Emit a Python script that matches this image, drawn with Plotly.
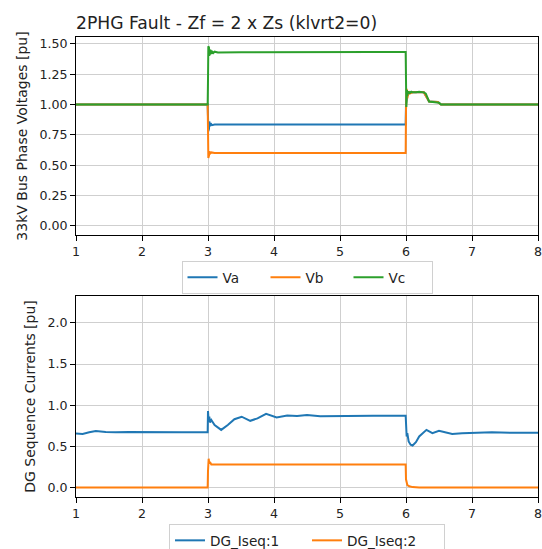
import plotly.graph_objects as go

# ---------------- data ----------------
title_text = "2PHG Fault - Zf = 2 x Zs (klvrt2=0)"

t_va = [1.0, 2.995, 3.0, 3.005, 3.01, 3.015, 3.02, 3.03, 3.04, 3.06, 3.1, 4.0, 5.0, 5.995,
        6.0, 6.01, 6.02, 6.05, 6.1, 6.27, 6.35, 6.48, 6.53, 8.0]
va = [1.0, 1.0, 0.9, 0.78, 0.88, 0.80, 0.86, 0.82, 0.845, 0.83, 0.835, 0.835, 0.838, 0.835,
      1.0, 1.06, 1.08, 1.1, 1.1, 1.1, 1.025, 1.02, 1.0, 1.0]

t_vb = [1.0, 2.995, 3.0, 3.005, 3.01, 3.015, 3.02, 3.03, 3.05, 3.1, 4.0, 5.0, 5.995,
        6.0, 6.01, 6.02, 6.04, 6.06, 6.1, 6.27, 6.35, 6.48, 6.53, 8.0]
vb = [1.0, 1.0, 0.8, 0.56, 0.63, 0.58, 0.615, 0.595, 0.605, 0.60, 0.60, 0.602, 0.60,
      0.95, 1.13, 1.05, 1.11, 1.09, 1.1, 1.1, 1.025, 1.02, 1.0, 1.0]

t_vc = [1.0, 2.995, 3.0, 3.005, 3.01, 3.015, 3.02, 3.025, 3.03, 3.04, 3.05, 3.06, 3.08, 3.1,
        3.15, 3.5, 4.0, 4.5, 5.0, 5.5, 5.995, 6.0, 6.005, 6.01, 6.015, 6.02, 6.03, 6.04,
        6.05, 6.06, 6.08, 6.1, 6.15, 6.2, 6.27, 6.3, 6.35, 6.48, 6.5, 6.53, 7.0, 8.0]
vc = [1.0, 1.0, 1.2, 1.48, 1.38, 1.47, 1.40, 1.455, 1.41, 1.45, 1.415, 1.44, 1.425, 1.435,
      1.428, 1.43, 1.432, 1.435, 1.434, 1.433, 1.432, 1.2, 0.98, 1.05, 1.12, 1.07, 1.11, 1.09,
      1.105, 1.095, 1.105, 1.10, 1.10, 1.105, 1.10, 1.09, 1.025, 1.02, 1.015, 1.0, 1.0, 1.0]

t_i1 = [1.0, 1.1, 1.2, 1.3, 1.45, 1.6, 1.8, 2.0, 2.3, 2.6, 2.995, 3.0, 3.01, 3.02, 3.03,
        3.05, 3.1, 3.2, 3.3, 3.4, 3.51, 3.64, 3.75, 3.88, 4.04, 4.2, 4.35, 4.5, 4.7, 5.0,
        5.5, 5.995, 6.0, 6.01, 6.02, 6.04, 6.07, 6.1, 6.15, 6.2, 6.31, 6.4, 6.5, 6.6, 6.7,
        6.85, 7.0, 7.3, 7.6, 8.0]
i1 = [0.655, 0.65, 0.67, 0.685, 0.675, 0.67, 0.675, 0.672, 0.675, 0.672, 0.67, 0.93, 0.80,
      0.86, 0.79, 0.82, 0.76, 0.70, 0.76, 0.83, 0.86, 0.81, 0.84, 0.895, 0.85, 0.875, 0.87,
      0.88, 0.865, 0.87, 0.872, 0.872, 0.70, 0.62, 0.66, 0.56, 0.52, 0.51, 0.55, 0.62, 0.70,
      0.66, 0.69, 0.67, 0.65, 0.66, 0.665, 0.67, 0.665, 0.665]

t_i2 = [1.0, 2.995, 3.0, 3.01, 3.02, 3.03, 3.05, 3.1, 4.0, 5.0, 5.995, 6.0, 6.02, 6.05,
        6.1, 6.2, 8.0]
i2 = [0.0, 0.0, 0.2, 0.35, 0.29, 0.31, 0.28, 0.28, 0.28, 0.28, 0.28, 0.1, 0.03, 0.015,
      0.005, 0.0, 0.0]

x_ticks = [1, 2, 3, 4, 5, 6, 7, 8]
v_ticks = [0.0, 0.25, 0.5, 0.75, 1.0, 1.25, 1.5]
i_ticks = [0.0, 0.5, 1.0, 1.5, 2.0]

for a, b in [(t_va, va), (t_vb, vb), (t_vc, vc), (t_i1, i1), (t_i2, i2)]:
    assert len(a) == len(b)

# ---------------- style ----------------
C1, C2, C3 = "#1f77b4", "#ff7f0e", "#2ca02c"
FONT = "DejaVu Sans"
GRID = "#cfcfcf"
TXT = "#222222"
FS_TICK = 12.6
FS_LAB = 14.0
FS_LEG = 13.6

fig = go.Figure()
fig.add_trace(go.Scatter(x=t_va, y=va, name="Va", mode="lines",
                         line=dict(color=C1, width=2), xaxis="x", yaxis="y", legend="legend"))
fig.add_trace(go.Scatter(x=t_vb, y=vb, name="Vb", mode="lines",
                         line=dict(color=C2, width=2), xaxis="x", yaxis="y", legend="legend"))
fig.add_trace(go.Scatter(x=t_vc, y=vc, name="Vc", mode="lines",
                         line=dict(color=C3, width=2), xaxis="x", yaxis="y", legend="legend"))
fig.add_trace(go.Scatter(x=t_i1, y=i1, name="DG_Iseq:1", mode="lines",
                         line=dict(color=C1, width=2), xaxis="x2", yaxis="y2", legend="legend2"))
fig.add_trace(go.Scatter(x=t_i2, y=i2, name="DG_Iseq:2", mode="lines",
                         line=dict(color=C2, width=2), xaxis="x2", yaxis="y2", legend="legend2"))

axis_common = dict(showline=True, linecolor="black", linewidth=1, mirror=True,
                   ticks="outside", ticklen=5, tickcolor="black", tickwidth=1,
                   showgrid=True, gridcolor=GRID, gridwidth=1, zeroline=False,
                   ticklabeloverflow="allow", automargin=False,
                   tickfont=dict(family=FONT, size=FS_TICK, color=TXT))

legend_common = dict(orientation="h", xanchor="center", yanchor="top",
                     xref="paper", yref="container",
                     bgcolor="white", bordercolor="#d0d0d0", borderwidth=1,
                     entrywidthmode="pixels",
                     font=dict(family=FONT, size=FS_LEG, color=TXT))

fig.update_layout(
    width=542, height=549,
    margin=dict(l=76, r=4, t=37, b=52, autoexpand=False),
    paper_bgcolor="white", plot_bgcolor="white",
    title=dict(text=title_text, x=76 / 542, xanchor="left", y=1 - 23 / 549, yanchor="middle",
               font=dict(family=FONT, size=17.2, color=TXT)),
    xaxis=dict(domain=[0, 1], anchor="y", range=[1, 8], tickvals=x_ticks, **axis_common),
    yaxis=dict(domain=[0.5696, 1], anchor="x", range=[-0.075, 1.556], tickvals=v_ticks,
               tickformat=".2f",
               title=dict(text="33kV Bus Phase Voltages [pu]", standoff=8,
                          font=dict(family=FONT, size=FS_LAB, color=TXT)),
               **axis_common),
    xaxis2=dict(domain=[0, 1], anchor="y2", range=[1, 8], tickvals=x_ticks, **axis_common),
    yaxis2=dict(domain=[0, 0.437], anchor="x2", range=[-0.115, 2.326], tickvals=i_ticks,
                tickformat=".1f",
                title=dict(text="DG Sequence Currents [pu]", standoff=8,
                           font=dict(family=FONT, size=FS_LAB, color=TXT)),
                **axis_common),
    legend=dict(x=0.5, y=1 - 261 / 549, entrywidth=38, **legend_common),
    legend2=dict(x=0.5, y=1 - 524 / 549, entrywidth=92, **legend_common),
    showlegend=True,
)

fig.write_html("out.html")
